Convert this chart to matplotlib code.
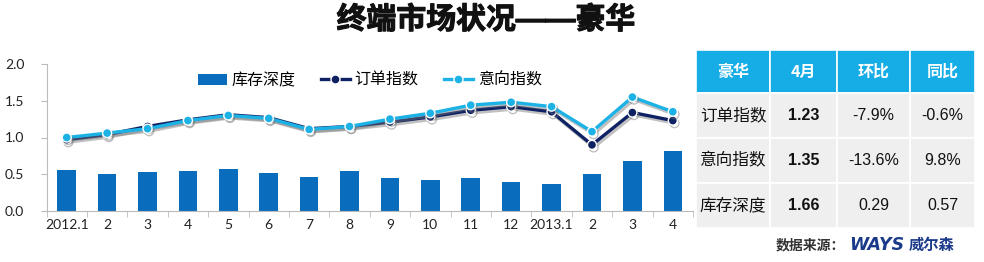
import matplotlib
matplotlib.use("Agg")
import matplotlib.pyplot as plt
import matplotlib.patheffects as pe
from matplotlib.patches import Rectangle
import numpy as np

plt.rcParams['font.family'] = ['Noto Sans CJK SC', 'DejaVu Sans']

# ---------------- data ----------------
months = ["2012.1", "2", "3", "4", "5", "6", "7", "8", "9", "10", "11", "12",
          "2013.1", "2", "3", "4"]
inventory_depth = [0.56, 0.50, 0.53, 0.54, 0.57, 0.52, 0.46, 0.54, 0.45, 0.42,
                   0.45, 0.39, 0.37, 0.50, 0.68, 0.82]
order_index = [0.97, 1.04, 1.15, 1.24, 1.31, 1.27, 1.12, 1.15, 1.21, 1.28,
               1.37, 1.42, 1.35, 0.90, 1.34, 1.23]
intention_index = [1.00, 1.06, 1.12, 1.23, 1.30, 1.26, 1.11, 1.15, 1.25, 1.33,
                   1.44, 1.48, 1.42, 1.08, 1.55, 1.35]
series_names = ["库存深度", "订单指数", "意向指数"]
yticks = [0.0, 0.5, 1.0, 1.5, 2.0]

table_header = ["豪华", "4月", "环比", "同比"]
table_rows = [["订单指数", "1.23", "-7.9%", "-0.6%"],
              ["意向指数", "1.35", "-13.6%", "9.8%"],
              ["库存深度", "1.66", "0.29", "0.57"]]

title = "终端市场状况——豪华"

# ---------------- figure ----------------
W, H = 984, 262
fig = plt.figure(figsize=(W / 100, H / 100), dpi=100)
fig.patch.set_facecolor("white")

ax = fig.add_axes([46.5 / W, 1 - 211 / H, (693 - 46.5) / W, (211 - 64) / H])
x = np.arange(len(months))

bar_c = "#0A6CBC"
ord_c = "#0E2163"
int_c = "#1DB2E6"

bars = ax.bar(x, inventory_depth, width=0.46, color=bar_c, label=series_names[0], zorder=2)
shadow = [pe.SimpleLineShadow(offset=(1.2, -1.8), shadow_color="#777777", alpha=0.45), pe.Normal()]
l1, = ax.plot(x, order_index, color=ord_c, lw=2.4, marker="o", ms=6.5,
              mfc=ord_c, mec="white", mew=1.0, label=series_names[1], zorder=3,
              path_effects=shadow)
l2, = ax.plot(x, intention_index, color=int_c, lw=2.4, marker="o", ms=6.5,
              mfc=int_c, mec="white", mew=1.0, label=series_names[2], zorder=4,
              path_effects=shadow)

ax.set_xlim(-0.5, len(months) - 0.5)
ax.set_ylim(0, 2.0)
ax.set_yticks(yticks)
ax.set_yticklabels([f"{v:.1f}" for v in yticks], fontsize=10, color="#222222",
                   family=["Lato", "DejaVu Sans"])
ax.set_xticks(x)
ax.set_xticklabels(months, fontsize=10, color="#222222", family=["Lato", "DejaVu Sans"])
ax.set_xticks(np.arange(-0.5, len(months), 1.0), minor=True)
ax.tick_params(axis="x", which="major", length=0, pad=6)
ax.tick_params(axis="x", which="minor", length=4, color="#bbbbbb")
ax.tick_params(axis="y", length=4, color="#bbbbbb", pad=12)
for s in ["top", "right"]:
    ax.spines[s].set_visible(False)
ax.spines["left"].set_color("#bbbbbb")
ax.spines["bottom"].set_color("#bbbbbb")
ax.patch.set_alpha(0)

leg = ax.legend([bars, l1, l2], series_names, loc="upper center",
                bbox_to_anchor=(0.5, 1.0), ncol=3, frameon=False,
                fontsize=11.5, handlelength=1.8, handletextpad=0.3, columnspacing=1.6,
                borderaxespad=0.1)
for h in leg.get_lines():
    h.set_path_effects([])

# title
fig.text(486 / W, 1 - 20 / H, title, ha="center", va="center", fontsize=21.5,
         fontweight="bold", color="#111111",
         family=["Liberation Sans", "Noto Sans CJK SC"],
         path_effects=[pe.withStroke(linewidth=0.8, foreground="#111111")])

# ---------------- table ----------------
tax = fig.add_axes([696 / W, 1 - 228 / H, (975 - 696) / W, (228 - 50) / H])
tax.set_xlim(0, 279)
tax.set_ylim(178, 0)
tax.axis("off")
col_edges = [0, 74, 141, 214, 279]
row_h = [43, 45, 45, 45]
hdr_c = "#16ADE6"
body_c = "#EFEFEF"
y0 = 0
for r in range(4):
    for c in range(4):
        x0 = col_edges[c]
        w = col_edges[c + 1] - x0
        color = hdr_c if r == 0 else body_c
        tax.add_patch(Rectangle((x0, y0), w, row_h[r], facecolor=color,
                                edgecolor="white", lw=1.2))
        if r == 0:
            txt = table_header[c]
            tax.text(x0 + w / 2, y0 + row_h[r] / 2, txt, ha="center", va="center",
                     fontsize=11.5, fontweight="bold", color="white")
        else:
            txt = table_rows[r - 1][c]
            if c == 0:
                tax.text(x0 + w / 2, y0 + row_h[r] / 2, txt, ha="center", va="center",
                         fontsize=12, color="#111111")
            else:
                tax.text(x0 + w / 2, y0 + row_h[r] / 2, txt, ha="center", va="center",
                         fontsize=11.5, color="#111111",
                         fontweight="bold" if c == 1 else "normal",
                         family=["Liberation Sans", "DejaVu Sans"])
    y0 += row_h[r]

# source
fig.text(845 / W, 1 - 245 / H, "数据来源：", ha="right", va="center", fontsize=10,
         fontweight="bold", color="#333333")
fig.text(849 / W, 1 - 245 / H, "WAYS", ha="left", va="center", fontsize=12.5,
         fontweight="heavy", style="italic", color="#1B3A8A",
         family=["DejaVu Sans"])
fig.text(909 / W, 1 - 245 / H, "威尔森", ha="left", va="center", fontsize=11,
         fontweight="bold", color="#1B3A8A")

fig.savefig("out.png", dpi=100, facecolor="white")
